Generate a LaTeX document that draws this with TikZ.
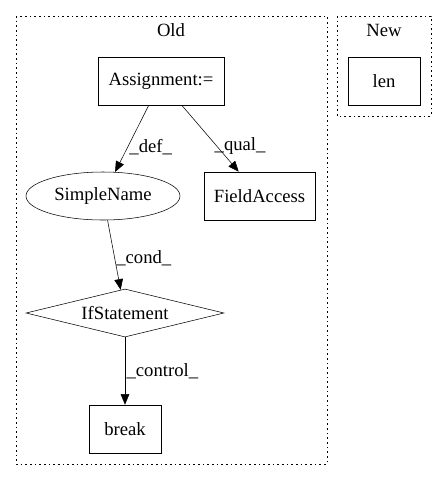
\documentclass[tikz,border=0pt]{standalone}
\usepackage{fontspec}
\setmainfont{Liberation Serif}
\usetikzlibrary{shapes.geometric,arrows.meta}
\tikzset{
  every node/.style={font=\fontsize{14}{16}\selectfont},
  box/.style={draw, rectangle, minimum height=36pt, inner sep=0pt},
  oval/.style={draw, ellipse, minimum width=115.5pt, minimum height=36pt, inner sep=0pt},
  cond/.style={draw, diamond, aspect=4.125, minimum width=148.5pt, minimum height=36pt, inner sep=0pt},
  cluster/.style={draw, dash pattern=on 1.2pt off 2.3pt},
  edge/.style={-{Triangle[length=8pt,width=6.5pt]}},
  elabel/.style={right, inner sep=1pt}
}
\begin{document}
\begin{tikzpicture}[x=0.75pt,y=-0.75pt]
\useasboundingbox (0,0) rectangle (447,480);
\draw[cluster] (16,16) rectangle (327,464);
\draw[cluster] (337,16) rectangle (431,116);
\node (old) at (171,30){Old};
\node (new) at (384,30){New};
\node[box, minimum width=94.5pt] (assign) at (161,81){Assignment:=};
\node[box, minimum width=54pt] (len) at (384,81){len};
\node[oval] (sname) at (103,196){SimpleName};
\node[box, minimum width=83.25pt] (faccess) at (259.5,196){FieldAccess};
\node[cond] (ifstmt) at (125,313){IfStatement};
\node[box, minimum width=54pt] (brk) at (125,429){break};
\draw[edge](assign) -- node[elabel, pos=0.62] (ldef) {\_def\_} (sname);
\draw[edge](assign) -- node[elabel, pos=0.62, xshift=-3pt] (lqual) {\_qual\_} (faccess);
\draw[edge](sname) -- node[elabel, pos=0.55] (lcond) {\_cond\_} (ifstmt);
\draw[edge](ifstmt) -- node[elabel, pos=0.5] (lcontrol) {\_control\_} (brk);
\end{tikzpicture}
\end{document}
